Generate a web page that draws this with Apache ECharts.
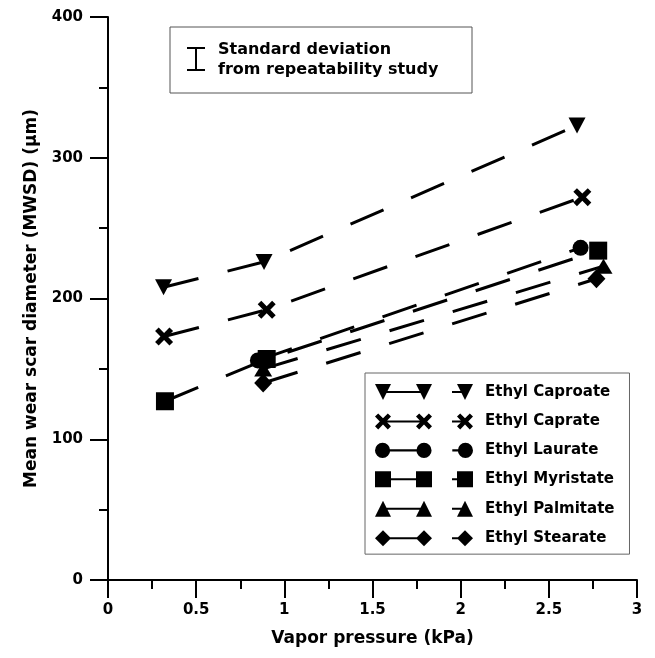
<!DOCTYPE html>
<html>
<head>
<meta charset="utf-8">
<script src="https://cdn.jsdelivr.net/npm/echarts@6/dist/echarts.min.js"></script>
<style>
  html, body { margin: 0; padding: 0; background: #fff; }
  #chart { width: 655px; height: 658px; }
</style>
</head>
<body>
<div id="chart"></div>
<script>
// data: [vapor pressure kPa, MWSD um]
var names = ["Ethyl Caproate", "Ethyl Caprate", "Ethyl Laurate", "Ethyl Myristate", "Ethyl Palmitate", "Ethyl Stearate"];
var caproate = [[0.315, 208], [0.885, 226], [2.66, 323]];
var caprate = [[0.318, 173], [0.9, 192], [2.69, 272]];
var laurate = [[0.85, 156], [2.68, 236]];
var myristate = [[0.323, 127], [0.9, 157], [2.78, 234]];
var palmitate = [[0.88, 150], [2.81, 223]];
var stearate = [[0.88, 140], [2.77, 214]];
var xTicks = [0, 0.5, 1, 1.5, 2, 2.5, 3];
var yTicks = [0, 100, 200, 300, 400];

var FONT = "DejaVu Sans";

// marker outlines (all clockwise so they union cleanly)
function tri_down(cx, cy, s) {
  return "M" + (cx - s) + " " + (cy - s) + "L" + (cx + s) + " " + (cy - s) + "L" + cx + " " + (cy + s) + "Z";
}
function tri_up(cx, cy, s) {
  return "M" + cx + " " + (cy - s) + "L" + (cx + s) + " " + (cy + s) + "L" + (cx - s) + " " + (cy + s) + "Z";
}
function sq(cx, cy, s) {
  return "M" + (cx - s) + " " + (cy - s) + "L" + (cx + s) + " " + (cy - s) + "L" + (cx + s) + " " + (cy + s) + "L" + (cx - s) + " " + (cy + s) + "Z";
}
function dia(cx, cy, s) {
  return "M" + cx + " " + (cy - s) + "L" + (cx + s) + " " + cy + "L" + cx + " " + (cy + s) + "L" + (cx - s) + " " + cy + "Z";
}
function circ(cx, cy, s) {
  var r = s - 0.5;
  return "M" + (cx - r) + " " + cy + "A" + r + " " + r + " 0 1 1 " + (cx + r) + " " + cy +
    "A" + r + " " + r + " 0 1 1 " + (cx - r) + " " + cy + "Z";
}
function cross(cx, cy, s) {
  var d = 3.2;
  var p = [[-s, -s + d], [-s + d, -s], [0, -d], [s - d, -s], [s, -s + d], [d, 0],
           [s, s - d], [s - d, s], [0, d], [-s + d, s], [-s, s - d], [-d, 0]];
  return p.map(function (q, i) { return (i ? "L" : "M") + (cx + q[0]) + " " + (cy + q[1]); }).join("") + "Z";
}
function bar(x0, x1) {
  return "M" + x0 + " 7L" + x1 + " 7L" + x1 + " 9L" + x0 + " 9Z";
}
// legend icon: marker-line-marker, then short line + marker
function icon(mk) {
  return "path://" + mk(8, 8, 8) + bar(8, 49) + mk(49, 8, 8) + bar(77, 90) + mk(90, 8, 8);
}

var markers = [
  { sym: "path://" + tri_down(8, 8, 8), size: [17, 16], mk: tri_down },
  { sym: "path://" + cross(8, 8, 8), size: 18, mk: cross },
  { sym: "circle", size: 16, mk: circ },
  { sym: "rect", size: 18, mk: sq },
  { sym: "path://" + tri_up(8, 8, 8), size: [18, 15], mk: tri_up },
  { sym: "diamond", size: [18, 19], mk: dia }
];
var datasets = [caproate, caprate, laurate, myristate, palmitate, stearate];

var series = names.map(function (n, i) {
  return {
    name: n,
    type: "line",
    data: datasets[i],
    symbol: markers[i].sym,
    symbolSize: markers[i].size,
    itemStyle: { color: "#000" },
    lineStyle: { color: "#000", width: 3, type: [36, 30] },
    z: 2 + i
  };
});

var axisLabel = { color: "#000", fontFamily: FONT, fontWeight: "bold", fontSize: 15 };

var chart = echarts.init(document.getElementById("chart"));
chart.setOption({
  animation: false,
  backgroundColor: "#fff",
  grid: { left: 108, right: 18, top: 17, bottom: 78, containLabel: false, outerBoundsMode: "none" },
  xAxis: {
    type: "value", min: 0, max: 3, interval: 0.5,
    name: "Vapor pressure (kPa)", nameLocation: "middle", nameGap: 50,
    nameTextStyle: { color: "#000", fontFamily: FONT, fontWeight: "bold", fontSize: 17 },
    axisLine: { lineStyle: { color: "#000", width: 2 } },
    axisTick: { length: 18, lineStyle: { color: "#000", width: 2 } },
    minorTick: { show: true, splitNumber: 2, length: 9, lineStyle: { color: "#000", width: 2 } },
    splitLine: { show: false },
    axisLabel: Object.assign({ margin: 23, formatter: function (v) { return xTicks.indexOf(v) >= 0 ? String(v) : ""; } }, axisLabel)
  },
  yAxis: {
    type: "value", min: 0, max: 400, interval: 100,
    name: "Mean wear scar diameter (MWSD) (\u00b5m)", nameLocation: "middle", nameGap: 68,
    nameTextStyle: { color: "#000", fontFamily: FONT, fontWeight: "bold", fontSize: 17 },
    axisLine: { lineStyle: { color: "#000", width: 2 } },
    axisTick: { length: 18, lineStyle: { color: "#000", width: 2 } },
    minorTick: { show: true, splitNumber: 2, length: 9, lineStyle: { color: "#000", width: 2 } },
    splitLine: { show: false },
    axisLabel: Object.assign({ margin: 25, formatter: function (v) { return yTicks.indexOf(v) >= 0 ? String(v) : ""; } }, axisLabel)
  },
  legend: {
    orient: "vertical", left: 365, top: 373,
    backgroundColor: "#fff", borderColor: "#666", borderWidth: 1,
    padding: [11, 15, 8, 10],
    itemWidth: 98, itemHeight: 16, itemGap: 13.4,
    itemStyle: { borderWidth: 0 },
    selectedMode: false,
    textStyle: { color: "#000", fontFamily: FONT, fontWeight: "bold", fontSize: 15, padding: [0, 0, 0, 7] },
    data: names.map(function (n, i) { return { name: n, icon: icon(markers[i].mk) }; })
  },
  graphic: [
    { type: "rect", shape: { x: 170, y: 27, width: 302, height: 66 }, style: { fill: "#fff", stroke: "#555", lineWidth: 1 }, z: 10 },
    { type: "line", shape: { x1: 196, y1: 48, x2: 196, y2: 70 }, style: { stroke: "#000", lineWidth: 2 }, z: 11 },
    { type: "line", shape: { x1: 187, y1: 48, x2: 205, y2: 48 }, style: { stroke: "#000", lineWidth: 2 }, z: 11 },
    { type: "line", shape: { x1: 187, y1: 70, x2: 205, y2: 70 }, style: { stroke: "#000", lineWidth: 2 }, z: 11 },
    { type: "text", x: 218, y: 40, z: 11,
      style: { text: "Standard deviation\nfrom repeatability study", fill: "#000", font: "bold 16px 'DejaVu Sans'", lineHeight: 20 } }
  ],
  series: series
});
</script>
</body>
</html>
